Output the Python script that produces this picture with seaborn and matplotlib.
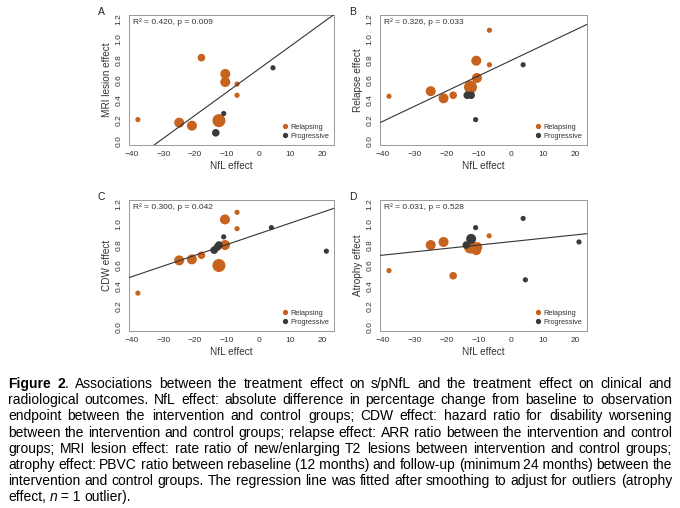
import re
import numpy as np
import pandas as pd
import matplotlib
matplotlib.use("Agg")
import matplotlib.pyplot as plt
from matplotlib.lines import Line2D
import seaborn as sns

# ---------------------------------------------------------------
# data
# ---------------------------------------------------------------
# A: MRI lesion effect
nfl_a = [-38, -25, -21, -18, -12.5, -10.5, -10.5, -6.8, -6.8, -13.5, -11, 4.5]
mri_a = [0.21, 0.18, 0.15, 0.82, 0.20, 0.58, 0.66, 0.56, 0.45, 0.08, 0.27, 0.72]
grp_a = ["Relapsing"] * 9 + ["Progressive"] * 3
wt_a = [1, 3, 3, 2, 4, 3, 3, 1, 1, 2, 1, 1]

# B: relapse effect
nfl_b = [-38, -25, -21, -18, -12.6, -10.8, -10.6, -6.7, -6.7, -13.6, -12.4, -11, 3.8]
rel_b = [0.44, 0.49, 0.42, 0.45, 0.53, 0.79, 0.62, 1.09, 0.75, 0.45, 0.45, 0.21, 0.75]
grp_b = ["Relapsing"] * 9 + ["Progressive"] * 4
wt_b = [1, 3, 3, 2, 4, 3, 3, 1, 1, 2, 2, 1, 1]

# C: CDW effect
nfl_c = [-38, -25, -21, -18, -12.5, -10.6, -10.6, -6.8, -6.8, -14, -13, -12.5, -11, 4, 21.3]
cdw_c = [0.33, 0.65, 0.66, 0.70, 0.60, 1.05, 0.80, 1.12, 0.96, 0.75, 0.78, 0.80, 0.88, 0.97, 0.74]
grp_c = ["Relapsing"] * 9 + ["Progressive"] * 6
wt_c = [1, 3, 3, 2, 4, 3, 3, 1, 1, 2, 2, 2, 1, 1, 1]

# D: atrophy effect
nfl_d = [-38, -25, -21, -18, -12.6, -10.8, -10.5, -6.8, -13.9, -12.4, -11, 3.8, 4.5, 21.2]
atr_d = [0.55, 0.80, 0.83, 0.50, 0.78, 0.75, 0.78, 0.89, 0.80, 0.86, 0.97, 1.06, 0.46, 0.83]
grp_d = ["Relapsing"] * 8 + ["Progressive"] * 6
wt_d = [1, 3, 3, 2, 4, 3, 3, 1, 2, 3, 1, 1, 1, 1]

# regression lines (intercept, slope) and stats labels
fits = [(0.707, 0.0227), (0.792, 0.0150), (0.91, 0.0105), (0.833, 0.0033)]
stats = ["R² = 0.420, p = 0.009", "R² = 0.326, p = 0.033",
         "R² = 0.300, p = 0.042", "R² = 0.031, p = 0.528"]
ylabels = ["MRI lesion effect", "Relapse effect", "CDW effect", "Atrophy effect"]
letters = ["A", "B", "C", "D"]
xticks = [-40, -30, -20, -10, 0, 10, 20]
yticks = [0.0, 0.2, 0.4, 0.6, 0.8, 1.0, 1.2]

caption = [
    "**Figure** **2**. Associations between the treatment effect on s/pNfL and the treatment effect on clinical and",
    "radiological outcomes. NfL effect: absolute difference in percentage change from baseline to observation",
    "endpoint between the intervention and control groups; CDW effect: hazard ratio for disability worsening",
    "between the intervention and control groups; relapse effect: ARR ratio between the intervention and control",
    "groups; MRI lesion effect: rate ratio of new/enlarging T2 lesions between intervention and control groups;",
    "atrophy effect: PBVC ratio between rebaseline (12\u00a0months) and follow-up (minimum 24\u00a0months) between the",
    "intervention and control groups. The regression line was fitted after smoothing to adjust for outliers (atrophy",
    "effect, _n_\u00a0=\u00a01 outlier).",
]

ORANGE = "#c8621f"
DARK = "#3a3a3a"
palette = {"Relapsing": ORANGE, "Progressive": DARK}
sizes = {1: 14, 2: 30, 3: 52, 4: 88}

sns.set_style("white")
plt.rcParams["font.family"] = ["Liberation Sans", "DejaVu Sans"]

W, H = 680, 508
fig = plt.figure(figsize=(W / 100, H / 100), dpi=100)

# panel boxes in pixels: left, top, right, bottom
boxes = [(129, 15, 334, 145), (380, 15, 587, 145),
         (129, 200, 334, 331), (380, 200, 587, 331)]
panels = [(nfl_a, mri_a, grp_a, wt_a), (nfl_b, rel_b, grp_b, wt_b),
          (nfl_c, cdw_c, grp_c, wt_c), (nfl_d, atr_d, grp_d, wt_d)]

for i, (l, t, r, b) in enumerate(boxes):
    ax = fig.add_axes([l / W, 1 - b / H, (r - l) / W, (b - t) / H])
    x, y, g, w = panels[i]
    df = pd.DataFrame({"nfl": x, "eff": y, "group": g, "wt": w})
    sns.scatterplot(data=df, x="nfl", y="eff", hue="group", palette=palette,
                    size="wt", sizes=sizes, legend=False, linewidth=0,
                    ax=ax, zorder=2)
    a0, a1 = fits[i]
    ax.axline((0, a0), slope=a1, color="#333333", lw=0.8, zorder=3)

    ax.set_xlim(-40.8, 23.7)
    ax.set_ylim(-0.04, 1.24)
    ax.set_xticks(xticks)
    ax.set_yticks(yticks)
    ax.set_xticklabels(["\u221240", "\u221230", "\u221220", "\u221210", "0", "10", "20"])
    ax.set_yticklabels([f"{v:.1f}" for v in yticks])
    ax.tick_params(direction="out", length=3, width=0.6, color="#777777",
                   labelsize=6, labelcolor="#333333", pad=1.5)
    ax.tick_params(axis="y", labelrotation=90)
    for lbl in ax.get_yticklabels():
        lbl.set_va("center")
    for s in ax.spines.values():
        s.set_color("#999999")
        s.set_linewidth(0.7)
    ax.set_xlabel("NfL effect", fontsize=7.2, color="#333333", labelpad=2)
    ax.set_ylabel(ylabels[i], fontsize=7.2, color="#333333", labelpad=3)

    ax.text(0.02, 0.975, stats[i], transform=ax.transAxes, ha="left", va="top",
            fontsize=6, color="#333333")

    handles = [Line2D([], [], marker="o", ls="", color=ORANGE, markersize=2.8),
               Line2D([], [], marker="o", ls="", color=DARK, markersize=2.8)]
    ax.legend(handles, ["Relapsing", "Progressive"], loc="lower right",
              frameon=False, fontsize=5.3, handletextpad=0.2, labelspacing=0.25,
              borderaxespad=0.3, handlelength=1.0, labelcolor="#333333")

    fig.text((l - 31) / W, 1 - (t - 3) / H, letters[i], fontsize=7.5,
             ha="left", va="center", color="#222222")

# ---------------------------------------------------------------
# caption, justified between x0 and x1
# ---------------------------------------------------------------
renderer = fig.canvas.get_renderer()
x0, x1 = 8, 672
base0, step = 388, 16.2
fs = 10.0
for i, line in enumerate(caption):
    yb = 1 - (base0 + i * step) / H
    words = []
    for word in line.split(" "):
        texts, widths = [], []
        for part in re.split(r"(\*\*[^*]+\*\*|_[^_]+_)", word):
            if not part:
                continue
            weight, style = "normal", "normal"
            if part.startswith("**"):
                part, weight = part[2:-2], "bold"
            elif part.startswith("_"):
                part, style = part[1:-1], "italic"
            tx = fig.text(0, yb, part, fontsize=fs, fontweight=weight,
                          fontstyle=style, va="baseline", ha="left", color="black")
            texts.append(tx)
            widths.append(tx.get_window_extent(renderer).width)
        words.append((texts, widths))
    total = sum(sum(ws) for _, ws in words)
    if i == len(caption) - 1:
        gap = fs * 100 / 72 * 0.278
    else:
        gap = (x1 - x0 - total) / (len(words) - 1)
    xp = x0
    for texts, ws in words:
        for tx, wdt in zip(texts, ws):
            tx.set_x(xp / W)
            xp += wdt
        xp += gap

fig.savefig("out.png", dpi=100)
